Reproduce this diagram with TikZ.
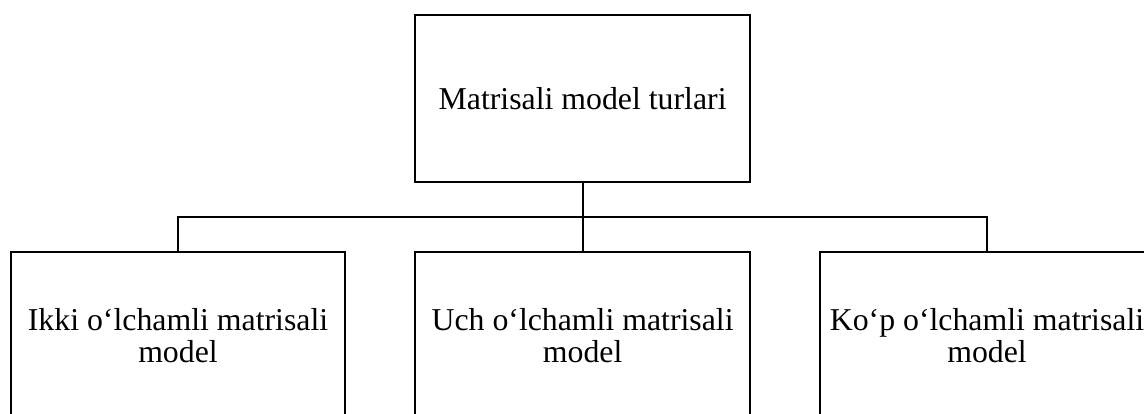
\documentclass[tikz,border=0pt]{standalone}
\usepackage{fontspec}
\setmainfont{Liberation Serif}
\begin{document}
\begin{tikzpicture}[x=1pt,y=-1pt,
  box/.style={draw=black,line width=2pt,rectangle,inner sep=0pt,
    minimum width=334.5pt,minimum height=167pt,align=center,
    font=\fontsize{31.8}{32.5}\selectfont},
  link/.style={draw=black,line width=2pt}]
\useasboundingbox (0,0) rectangle (1144,414);
\clip (0,0) rectangle (1144,414);
\node[box] (top) at (582.6,98.5) {Matrisali model turlari};
\node[box] (left) at (178,335.5) {Ikki o‘lchamli matrisali\\model};
\node[box] (mid) at (582.6,335.5) {Uch o‘lchamli matrisali\\model};
\node[box] (right) at (987,335.5) {Ko‘p o‘lchamli matrisali\\model};
\coordinate (bus) at (582.6,216.7);
\draw[link] (top.south) -- (mid.north);
\draw[link] (left.north) -- (left.north |- bus) -- (right.north |- bus) -- (right.north);
\end{tikzpicture}
\end{document}
